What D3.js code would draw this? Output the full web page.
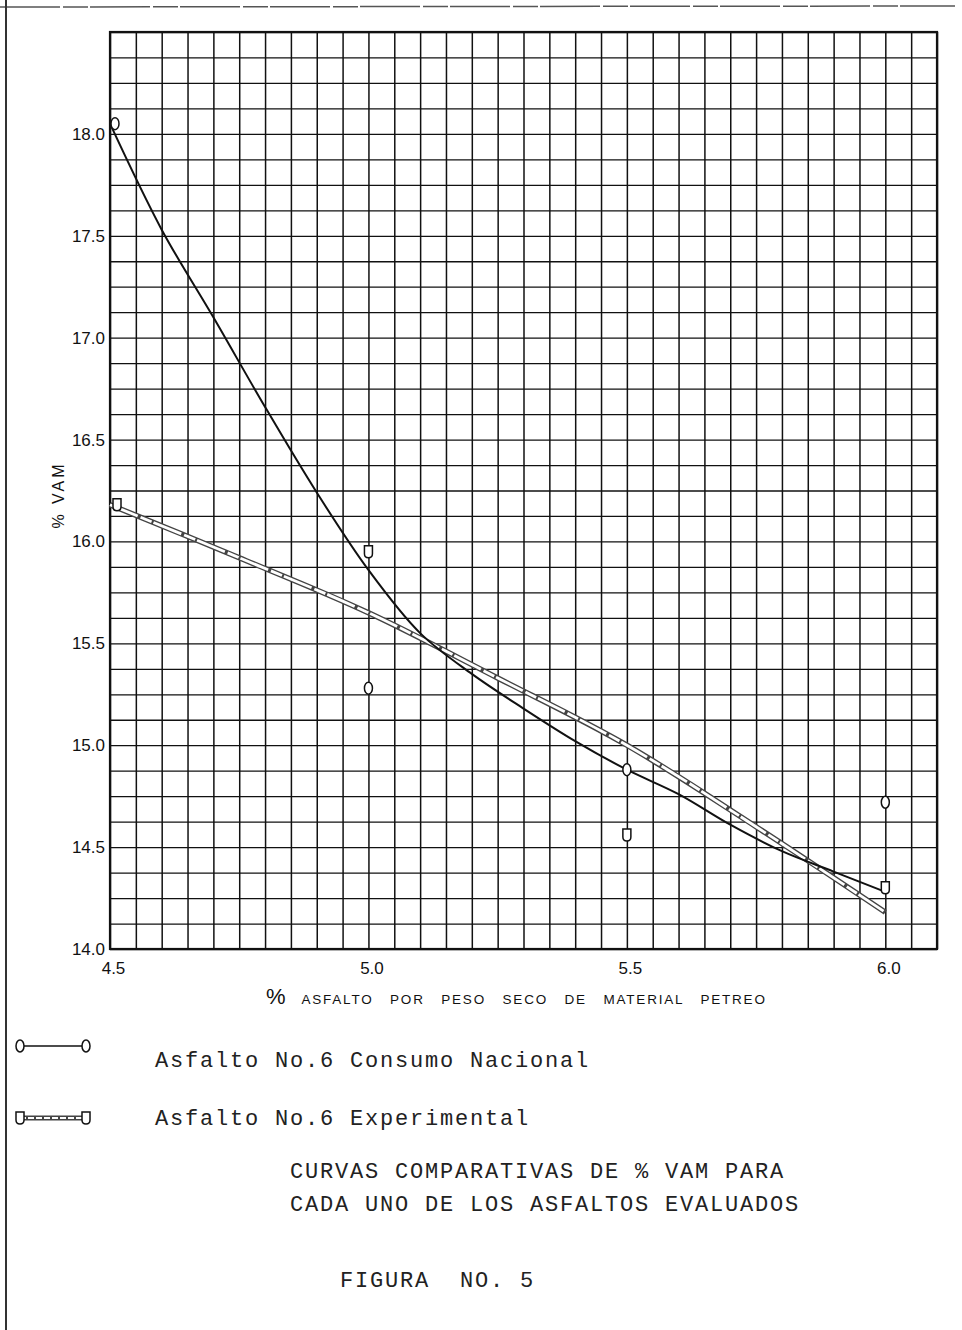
<!DOCTYPE html>
<html lang="es">
<head>
<meta charset="UTF-8"/>
<title>Figura No. 5 - Curvas comparativas de % VAM</title>
<script src="https://d3js.org/d3.v7.min.js"></script>
<style>
  body { margin: 0; background: #fff; }
  .tick text { font-family: "Liberation Sans", Arial, sans-serif; }
  .mono { font-family: "Liberation Mono", "Courier New", monospace; }
</style>
</head>
<body>
<script>

    var w = 962;
    var h = 1330;

    // tick labels
    var xTicks = [4.5, 5.0, 5.5, 6.0];
    var yTicks = [14.0, 14.5, 15.0, 15.5, 16.0, 16.5, 17.0, 17.5, 18.0];

    // measured points (markers)
    var nacionalX = [4.5, 5.0, 5.5, 6.0];
    var nacionalY = [18.05, 15.28, 14.88, 14.72];
    var experimentalX = [4.5, 5.0, 5.5, 6.0];
    var experimentalY = [16.18, 15.95, 14.56, 14.30];

    // hand drawn curves
    var curveNacionalX = [4.5, 4.6, 4.7, 4.8, 4.9, 5.0, 5.1, 5.2, 5.3, 5.4, 5.5, 5.6, 5.7, 5.8, 5.9, 6.0];
    var curveNacionalY = [18.05, 17.53, 17.1, 16.66, 16.24, 15.86, 15.55, 15.35, 15.18, 15.02, 14.88, 14.76, 14.61, 14.48, 14.38, 14.28];
    var curveExperimentalX = [4.5, 4.75, 5.0, 5.25, 5.5, 5.75, 6.0];
    var curveExperimentalY = [16.18, 15.92, 15.65, 15.33, 15.0, 14.6, 14.18];

    var xTitleWords = ["ASFALTO", "POR", "PESO", "SECO", "DE", "MATERIAL", "PETREO"];
    var legendLabels = ["Asfalto No.6 Consumo Nacional", "Asfalto No.6 Experimental"];
    var titleLines = ["CURVAS COMPARATIVAS DE % VAM PARA", "CADA UNO DE LOS ASFALTOS EVALUADOS"];
    var figureLabel = "FIGURA  NO. 5";

    var plotL = 110, plotR = 937, plotT = 32, plotB = 949;

    var xScale = d3.scaleLinear().domain([4.5, 6.1]).range([plotL, plotR]);
    var yScale = d3.scaleLinear().domain([14, 18.5]).range([plotB, plotT]);

    var svg = d3.select("body")
        .append("svg")
        .attr("width", w)
        .attr("height", h);

    svg.append("rect").attr("width", w).attr("height", h).attr("fill", "#fff");

    // scanned page edges
    svg.append("line").attr("x1", 0).attr("y1", 7).attr("x2", 955).attr("y2", 6)
        .attr("stroke", "#555").attr("stroke-width", 1.5).attr("stroke-dasharray", "60,3,25,2");
    svg.append("line").attr("x1", 6).attr("y1", 0).attr("x2", 6).attr("y2", h)
        .attr("stroke", "#333").attr("stroke-width", 2);

    // grid
    var gridX = d3.range(0, 33).map(function(i) { return +(4.5 + i * 0.05).toFixed(2); });
    var gridY = d3.range(0, 37).map(function(i) { return 14 + i * 0.125; });

    svg.append("g")
        .attr("transform", "translate(0," + plotB + ")")
        .call(d3.axisBottom(xScale).tickValues(gridX).tickSize(-(plotB - plotT)).tickFormat(""))
        .call(function(g) { g.select(".domain").remove(); })
        .selectAll("line").attr("stroke", "#111").attr("stroke-width", 1.5);

    svg.append("g")
        .attr("transform", "translate(" + plotL + ",0)")
        .call(d3.axisLeft(yScale).tickValues(gridY).tickSize(-(plotR - plotL)).tickFormat(""))
        .call(function(g) { g.select(".domain").remove(); })
        .selectAll("line").attr("stroke", "#111").attr("stroke-width", 1.3);

    svg.append("rect")
        .attr("x", plotL).attr("y", plotT)
        .attr("width", plotR - plotL).attr("height", plotB - plotT)
        .attr("fill", "none").attr("stroke", "#111").attr("stroke-width", 2.2);

    // tick labels
    var xAxis = svg.append("g")
        .attr("transform", "translate(3," + plotB + ")")
        .call(d3.axisBottom(xScale).tickValues(xTicks).tickSize(0).tickPadding(13).tickFormat(d3.format(".1f")));
    xAxis.select(".domain").remove();
    xAxis.selectAll("text").attr("font-size", "17px").attr("fill", "#111");

    var yAxis = svg.append("g")
        .attr("transform", "translate(" + plotL + ",0)")
        .call(d3.axisLeft(yScale).tickValues(yTicks).tickSize(0).tickPadding(5).tickFormat(d3.format(".1f")));
    yAxis.select(".domain").remove();
    yAxis.selectAll("text").attr("font-size", "17px").attr("fill", "#111");

    // axis titles
    var xt = svg.append("text")
        .attr("x", 266).attr("y", 1004)
        .attr("font-family", "Liberation Sans, Arial, sans-serif")
        .attr("font-size", "13.5px").attr("letter-spacing", "1.8px").attr("fill", "#111")
        .attr("word-spacing", "11px");
    xt.append("tspan").attr("font-size", "22px").text("%");
    xt.append("tspan").attr("dx", 14).text(xTitleWords.join(" "));

    svg.append("text")
        .attr("transform", "translate(64,495) rotate(-90)")
        .attr("text-anchor", "middle")
        .attr("font-family", "Liberation Sans, Arial, sans-serif")
        .attr("font-size", "16px").attr("letter-spacing", "3px").attr("fill", "#111")
        .text("% VAM");

    // curves
    var line = d3.line()
        .x(function(d) { return xScale(d[0]); })
        .y(function(d) { return yScale(d[1]); })
        .curve(d3.curveCatmullRom);

    var expData = d3.zip(curveExperimentalX, curveExperimentalY);
    var nacData = d3.zip(curveNacionalX, curveNacionalY);

    svg.append("path").datum(expData).attr("d", line)
        .attr("fill", "none").attr("stroke", "#444").attr("stroke-width", 5.5);
    svg.append("path").datum(expData).attr("d", line)
        .attr("fill", "none").attr("stroke", "#fff").attr("stroke-width", 2.8)
        .attr("stroke-dasharray", "30,3,12,2");

    svg.append("path").datum(nacData).attr("d", line)
        .attr("fill", "none").attr("stroke", "#111").attr("stroke-width", 2);

    // markers
    function oMark(g, x, y) {
        g.append("ellipse").attr("cx", x).attr("cy", y).attr("rx", 4).attr("ry", 6)
            .attr("fill", "#fff").attr("stroke", "#111").attr("stroke-width", 1.5);
    }
    function uMark(g, x, y) {
        g.append("path")
            .attr("d", "M" + (x - 4) + "," + (y - 6) + " V" + (y + 2) + " Q" + (x - 4) + "," + (y + 6) + " " + x + "," + (y + 6)
                + " Q" + (x + 4) + "," + (y + 6) + " " + (x + 4) + "," + (y + 2) + " V" + (y - 6) + " Z")
            .attr("fill", "#fff").attr("stroke", "#111").attr("stroke-width", 1.5);
    }

    var marks = svg.append("g");
    nacionalX.forEach(function(v, i) {
        oMark(marks, xScale(v) + (i === 0 ? 5 : 0), yScale(nacionalY[i]));
    });
    experimentalX.forEach(function(v, i) {
        uMark(marks, xScale(v) + (i === 0 ? 7 : 0), yScale(experimentalY[i]));
    });

    // legend
    var lg = svg.append("g");
    lg.append("line").attr("x1", 20).attr("y1", 1046).attr("x2", 86).attr("y2", 1046)
        .attr("stroke", "#111").attr("stroke-width", 1.5);
    oMark(lg, 20, 1046);
    oMark(lg, 86, 1046);
    lg.append("line").attr("x1", 20).attr("y1", 1118).attr("x2", 86).attr("y2", 1118)
        .attr("stroke", "#444").attr("stroke-width", 5);
    lg.append("line").attr("x1", 20).attr("y1", 1118).attr("x2", 86).attr("y2", 1118)
        .attr("stroke", "#fff").attr("stroke-width", 2).attr("stroke-dasharray", "6,2");
    uMark(lg, 20, 1118);
    uMark(lg, 86, 1118);

    lg.selectAll("text.leg")
        .data(legendLabels)
        .enter()
        .append("text")
        .attr("class", "mono")
        .attr("x", 155)
        .attr("y", function(d, i) { return 1067 + i * 58; })
        .attr("font-size", "22px").attr("letter-spacing", "1.8px").attr("fill", "#222")
        .text(function(d) { return d; });

    svg.selectAll("text.title")
        .data(titleLines)
        .enter()
        .append("text")
        .attr("class", "mono")
        .attr("x", 290)
        .attr("y", function(d, i) { return 1178 + i * 33; })
        .attr("font-size", "22px").attr("letter-spacing", "1.8px").attr("fill", "#222")
        .text(function(d) { return d; });

    svg.append("text")
        .attr("class", "mono")
        .attr("x", 340).attr("y", 1287)
        .attr("font-size", "22px").attr("letter-spacing", "1.8px").attr("fill", "#222")
        .style("white-space", "pre")
        .text(figureLabel);

</script>
</body>
</html>
